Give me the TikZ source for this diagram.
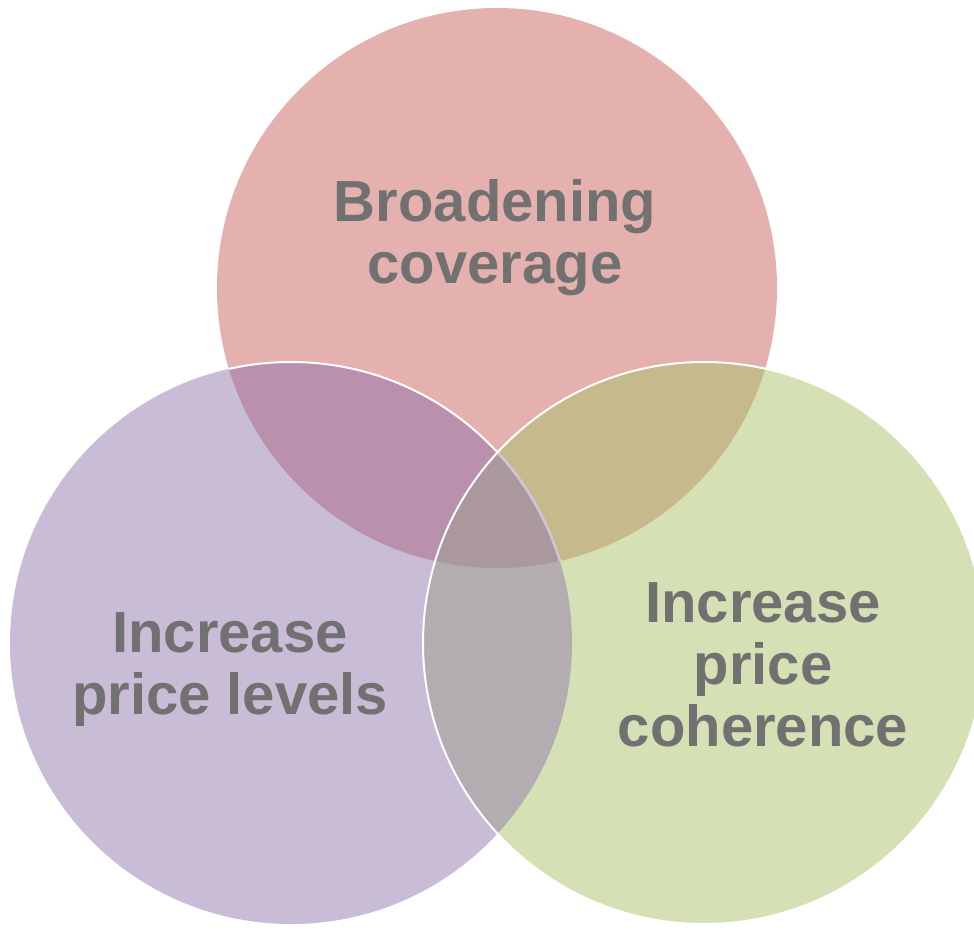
\documentclass[tikz,border=0pt]{standalone}
\usepackage{fontspec}
\setmainfont{Liberation Sans}
\usetikzlibrary{positioning}

\definecolor{pinkfill}{HTML}{E5B1AF}
\definecolor{lilacfill}{HTML}{C8BCD7}
\definecolor{greenfill}{HTML}{D5E0B5}
\definecolor{pinklilac}{HTML}{B991AD}
\definecolor{pinkgreen}{HTML}{C6BA8C}
\definecolor{lilacgreen}{HTML}{B3ADB2}
\definecolor{allthree}{HTML}{AA989C}
\definecolor{lilacedge}{HTML}{CBC1DA}
\definecolor{labelgray}{HTML}{717171}

\tikzset{
    setlabel/.style={inner sep=0pt, align=center, text=labelgray,
        font=\fontsize{43.5}{46.5}\selectfont\bfseries},
    rim/.style={line width=1.5pt}
}

\begin{document}
\begin{tikzpicture}[x=0.75pt,y=-0.75pt]
    \useasboundingbox (0,0) rectangle (974,930);
    \clip (0,0) rectangle (974,930);

    \coordinate (ctop) at (497,288);
    \coordinate (cleft) at (291,643);
    \coordinate (cright) at (704,643);

    % the three sets
    \fill[pinkfill] (ctop) circle (210pt);
    \fill[lilacfill] (cleft) circle (210.75pt);
    \fill[greenfill] (cright) circle (210.75pt);

    % pairwise overlaps
    \begin{scope}
        \clip (ctop) circle (210pt);
        \fill[pinklilac] (cleft) circle (210.75pt);
        \fill[pinkgreen] (cright) circle (210.75pt);
    \end{scope}
    \begin{scope}
        \clip (cleft) circle (210.75pt);
        \fill[lilacgreen] (cright) circle (210.75pt);
    \end{scope}
    % middle part
    \begin{scope}
        \clip (ctop) circle (210pt);
        \clip (cleft) circle (210.75pt);
        \fill[allthree] (cright) circle (210.75pt);
    \end{scope}

    % outlines
    \begin{scope}
        \clip (ctop) circle (210pt);
        \draw[rim,white] (cleft) circle (210.75pt);
        \clip (cright) circle (210.75pt);
        \draw[rim,lilacedge] (cleft) circle (210.75pt);
    \end{scope}
    \draw[rim,white] (cright) circle (210.75pt);

    % set names
    \node[setlabel] (broad) at (495,238) {Broadening\\coverage};
    \node[setlabel] (levels) at (230,670) {Increase\\price levels};
    \node[setlabel] (coher) at (763,665) {Increase\\price\\coherence};
\end{tikzpicture}
\end{document}
